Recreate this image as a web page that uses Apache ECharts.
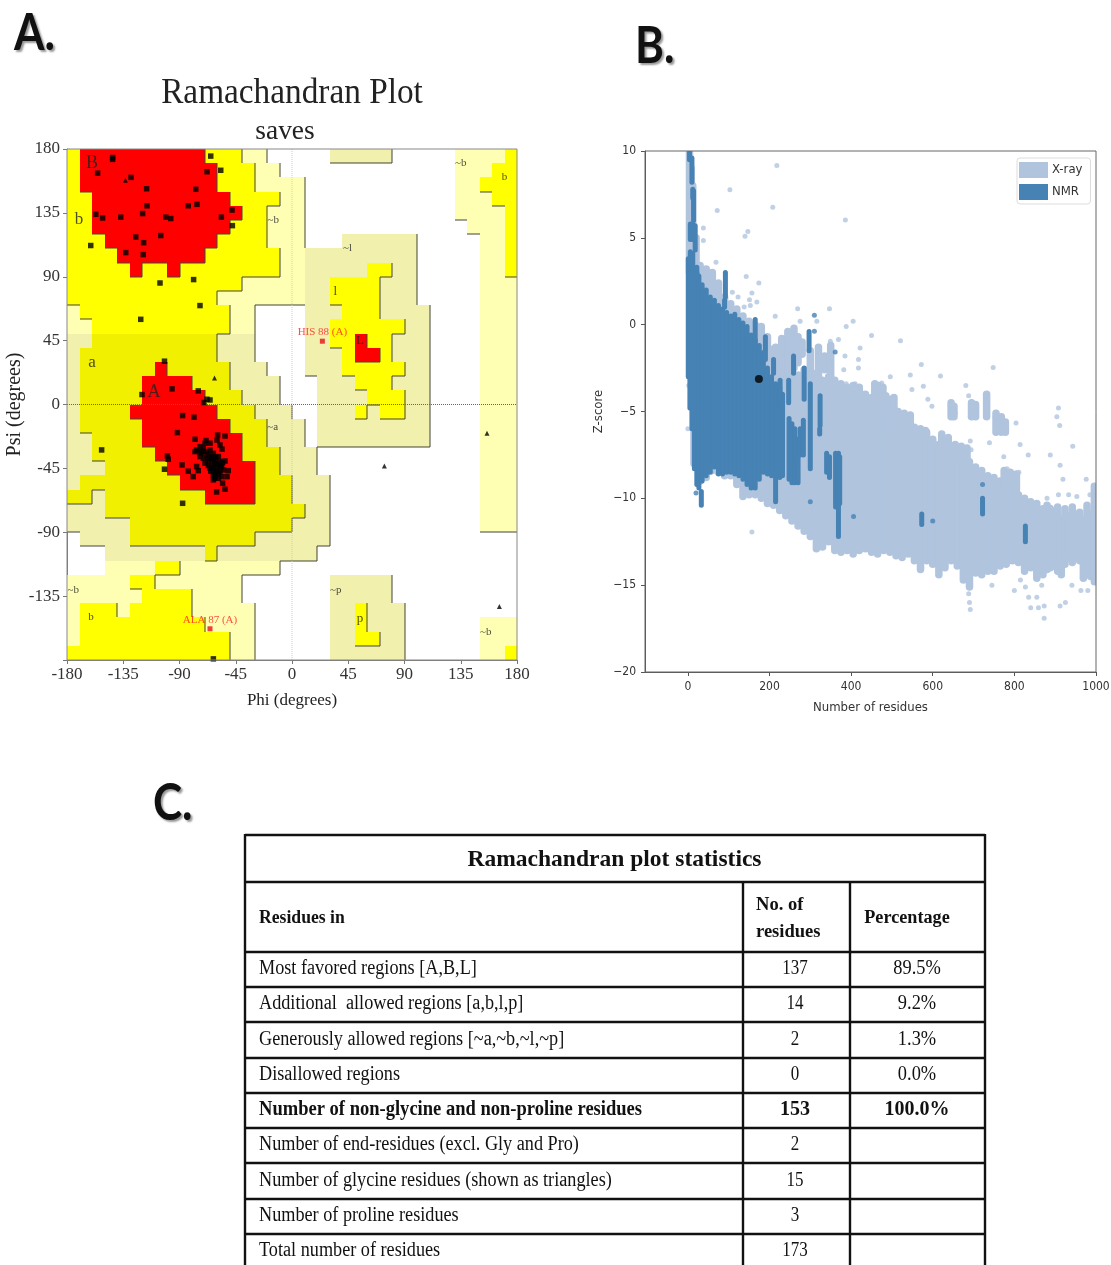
<!DOCTYPE html>
<html><head><meta charset="utf-8">
<style>html,body{margin:0;padding:0;background:#fff}#c{width:1111px;height:1265px;filter:blur(0.55px)}</style>
<script src="https://cdn.jsdelivr.net/npm/echarts@6/dist/echarts.min.js"></script>
</head><body><div id="c"></div>
<script>
// ---------- Panel A data: 10-degree Ramachandran cells, top row first (run-length: code+count)
const regionRows = [
'y1r10y3p2.5t5.5p4y1','y1r11y3p2.14p3y2','y1r11y3p4.12p2y3','y2r11y4p2.12p3y2',
'y2r12y2p3.12p4y1','y2r11y3p3.13p3y1','y3r9y4p3.3t6.5p2y1','y4r7y6p2t9.5p2y1',
'y5r1y2r1y8p2t5y2t2.5p2y1','y14p5t2y4t3.5p3','y12p7t2y4t3.5p3','p1y12p2.4t3y3t4.4p3',
'p2y11p2.4t2y6t2.4p3','t2o10t3.4t2y2r1y2t3.4p3','t1o11t3.4t3y1r2y1t3.4p3','t1o6r1o5t3.3t3y5t2.4p3',
't1o5r4o3t4.3t3y3t3.4p3','t1o5r5o3t3.3t4y3t2.4p3','t1o4r7o3t3.2t3y1t1y2t2.4p3','t1o5r7o3t3.1t9.4p3',
't2o4r8o2t3.1t9.4p3','t2o5r7o3t3.13p3','t3o5r7o2t3.13p3','t1o8r6o3t3.12p3',
'o2t1o8r4o3t3.12p3','t3o16t2.12p3','t5o13t3.12p3','.1t4o10t6.15',
'.3t8o1t8.16','.3p4y2p8.19','p5y2p7.7t5.10','p6y4p4.7t5.10',
'p1y3p1y5p5.6t2y1t3.9','p1y10p4.6t2y1t3.6p3','p1y12p2.6t2y2t2.6p3','y13p2.6t6.6p2y1'];
const regionFill = {p:'#FFFFB3',t:'#F1F0AC',y:'#FFFF00',o:'#F0F000',r:'#FF0000'};
const regionRank = {'.':0,p:1,t:1,y:2,o:2,r:3};
const residueSquares = [
[-143.5,174],[-143.5,172.7],[-155.5,163],[-128.8,160],[-116.3,152],[-65,175],[-68,164],[-57,165],[-77,151.6],[-76,141],
[-83,140],[-116,140],[-119.5,134.5],[-157,134],[-151.5,131.4],[-137,132],[-101,132],[-97,131],[-56.5,132],[-48,137],
[-47.7,126],[-105,119],[-125,118],[-118.7,114],[-133,107],[-119,105.6],[-161,112],[-105.6,85.6],[-78.7,88],[-73.6,69.7],
[-121,60],[-102,30.5],[-96,11],[-120,7],[-75,9.6],[-68,3.7],[-65.6,3.2],[-70.4,1.4],
[-87.5,-7.8],[-78.4,-9],[-91.7,-19.8],[-77.6,-24.5],[-53.6,-22.2],[-59.5,-21.5],[-60,-25],[-57.6,-28.5],[-56,-31.5],
[-68.8,-25.4],[-65.6,-27.3],[-152.3,-32],[-99.7,-36.2],[-99,-38.6],[-102,-45.6],[-88,-42.6],[-83,-47],[-79,-50.8],
[-76.3,-43.7],[-75,-46.6],[-87.5,-69.6],[-60.3,-61.6],[-55.5,-55.5],[-53.6,-59.7],[-52,-50.8],[-51,-46.6],[-53.6,-39.8],
[-76.3,-32],[-73.6,-29.7],[-70.9,-30.8],[-72.3,-34.4],[-69.6,-27.3],[-68.3,-33.2],[-73.6,-36.7],[-70.9,-37.9],[-65.6,-32],
[-64.3,-36.7],[-66.9,-40.2],[-62.9,-34.4],[-61.6,-39],[-64.3,-43.7],[-60.3,-41.4],[-57.6,-40.2],[-56.3,-43.7],[-62.9,-47.3],
[-60.3,-46.1],[-57.6,-47.3],[-61.6,-50.8],[-58.9,-52],[-62.9,-53.1],[-54.9,-46.1],[-65.6,-44.9],[-58.9,-36.7],[-69.6,-41.4],
[-66.9,-35.5],[-73.6,-33.2],[-77.6,-33.2],[-62.9,-49.6],[-56.3,-50.8],[-62,-42],[-63.5,-45],[-60,-44],[-66,-38],[-59,-49],
[-64,-40],[-61,-37],[-68,-37],[-62,-52],[-57,-44],[-65,-47],[-71,-33],[-58,-42],[-60,-48],[-63,-38],[-55.5,-41],[-67,-43],
[-62.9,-179.2]];
const glycineTriangles = [[-133.3,158],[-62,18.7],[156,-20.3],[73.9,-43.3],[165.9,-142.3]];
const outlierResidues = [{name:'HIS 88 (A)',value:[24.3,44.6]},{name:'ALA 87 (A)',value:[-65.6,-158]}];
const regionLabels = [
{name:'B',value:[-160,170],size:18},{name:'b',value:[-170.4,130],size:17},{name:'a',value:[-160,29.3],size:17},{name:'A',value:[-110.4,8.9],size:18},
{name:'~a',value:[-15.4,-15.6],size:11},{name:'~b',value:[-15,130],size:11},{name:'~l',value:[44.5,110],size:11},{name:'l',value:[34.6,79.5],size:13},
{name:'L',value:[54.4,45],size:13},{name:'~b',value:[135,170],size:11},{name:'b',value:[170,160],size:11},{name:'~b',value:[-175,-130.5],size:11},
{name:'b',value:[-160.8,-150],size:11},{name:'~p',value:[35,-130.5],size:11},{name:'p',value:[54.4,-151],size:13},{name:'~b',value:[155,-160],size:11}];

// ---------- Panel B data: [residues, lowest Z, highest Z] read column by column, plus isolated points
const xrayColumns = [
[4,3,9.9],[8,3,9],[12,3,8],[20,3,5],
[15,-8,3.5],[30,-9,3.4],[45,-8.8,3.2],[60,-8.4,3],[75,-8.5,2.4],[90,-8.7,1.6],[105,-8.7,1.2],[120,-9.2,0.9],[135,-9.9,0.5],[150,-9.8,0.2],
[165,-9.8,0],[180,-10,-0.1],[195,-10.3,-0.7],[210,-10.4,-1.4],[225,-10.7,-2],[240,-11,-2.4],[255,-11.3,-2.6],[270,-11.6,-2.9],[285,-11.9,-2.6],
[300,-12.2,-2.5],[315,-12.9,-2.8],[330,-12.8,-3.2],[345,-12.5,-3],[360,-13,-3.2],[375,-13.1,-3.4],[390,-13,-3.6],[405,-13.2,-3.5],[420,-13,-3.6],
[435,-12.9,-4],[450,-13.1,-4.2],[465,-13.2,-4.3],[480,-13,-4.6],[495,-13.1,-4.8],[510,-13.3,-5],[525,-13.4,-5.3],[540,-13.2,-5.5],[555,-13.6,-5.9],
[570,-14.1,-6.1],[585,-13.6,-6.2],[600,-13.8,-6.6],[615,-14.4,-6.9],[630,-14,-7.2],[645,-13.6,-7.4],[660,-13.9,-7.6],[675,-14.7,-7.7],[690,-15.1,-7.9],
[705,-14.3,-8.2],[720,-14.4,-8.4],[735,-14.2,-8.7],[750,-14.2,-8.8],[765,-13.9,-9],[780,-13.8,-9.1],[795,-13.6,-9.5],[810,-13.7,-9.8],[825,-14.2,-10],
[840,-14,-10.2],[855,-14.6,-10.3],[870,-14.4,-10.6],
[880,-14.1,-10.4],[888,-14,-10.6],[897,-13.9,-11],[906,-14.2,-10.5],[915,-14.4,-11.2],[924,-13.8,-10.6],[933,-13.4,-11],[942,-13.7,-10.5],[951,-13.2,-11.5],
[960,-13.6,-10.8],[969,-14.6,-11.2],[978,-14.4,-10.4],[987,-14.5,-10.9],[996,-14.8,-9.3],
[215,-3.2,-1.3],[230,-3,-0.8],[245,-2.8,-0.4],[260,-2.5,-0.2],[270,-2.2,-0.7],[280,-1.7,-1],[300,-2.5,-1.5],[320,-3,-1.3],[335,-2.6,-1.8],[350,-3,-1.2],
[458,-4.7,-3.4],[468,-4.7,-3.5],[478,-4.7,-3.6],[485,-5.3,-4.1],[497,-5.3,-4.3],[505,-5.5,-4.2],[515,-6.5,-5],[530,-6.5,-5.1],[545,-6.5,-5.2],
[570,-6.4,-6],[582,-6.4,-6.1],[645,-5.3,-4.5],[652,-5.3,-4.7],[695,-5.3,-4.5],[705,-5.3,-4.6],[732,-5.3,-4],[755,-6.2,-5.1],[768,-6.2,-5.3],[778,-6.2,-5.6],
[622,-7,-6.3],[638,-7.4,-6.5],[655,-7.6,-6.9],[670,-7.8,-7],[684,-8,-7.1],[775,-9.3,-8.4],[790,-9.3,-8.5],[805,-9.5,-8.6]];
const xrayPoints = [
[218,9.16],[103,7.77],[208,6.76],[72,6.58],[386,6.03],[38,5.57],[147,5.37],[140,5.09],[38,4.84],[69,3.6],[143,2.78],[174,2.4],[109,1.86],[157,1.82],
[123,1.6],[151,1.44],[169,1.3],[153,1.11],[138,1.02],[269,0.92],[347,0.92],[214,0.48],[275,0.19],[316,0.19],[388,-0.1],[349,-0.96],[369,-0.86],
[2,-3.5],[0,-6],[157,-11.94],[405,0.19],[450,-0.63],[521,-0.92],[572,-2.3],[748,-2.46],[619,-2.96],[496,-3],[545,-2.9],[681,-3.5],[577,-3.55],
[549,-3.74],[688,-4.1],[730,-4.1],[730,-4.7],[700,-4.7],[643,-4.7],[655,-5.1],[908,-4.8],[904,-5.3],[911,-5.8],[773,-5.76],[753,-5.3],[804,-5.66],
[692,-5.3],[588,-4.3],[598,-4.7],[475,-3.36],[455,-4.4],[422,-1.34],[385,-1.8],[418,-2],[382,-2.6],[418,-2.5],[388,-3.4],[410,-3.4],
[692,-6.7],[694,-7.2],[739,-6.8],[814,-6.9],[834,-7.5],[943,-7],[888,-7.5],[912,-8.1],[919,-8.9],[976,-8.9],[908,-9.8],[933,-9.8],[953,-9.9],[985,-9.8],
[774,-7.6],[782,-8.3],[811,-8.5],[880,-10],[888,-10.5],[896,-10.9],[692,-16.4],[688,-15.5],[690,-16],[745,-15],[800,-15.3],[815,-14.7],[827,-15.1],
[835,-15.7],[840,-16.3],[855,-15.7],[859,-16.3],[867,-15],[873,-16.2],[873,-16.9],[912,-16.2],[925,-16],[963,-15.3],[980,-15.3],[941,-15],[573,-14]];
const nmrColumns = [
[1,-3,3.8],[5,-4.8,3.6],[10,-6,3.5],[16,-8.3,3.2],[22,-9.2,3],[27,-9.4,2.8],[35,-9,2.3],[45,-8.7,2],[55,-8.5,1.6],[65,-8.2,1.4],[75,-8.6,1.1],[85,-8.6,0.9],
[95,-8.5,0.7],[105,-8.5,0.5],[115,-8.6,0.6],[125,-8.7,0.3],[135,-8.9,0.1],[145,-9.2,-0.1],[155,-9.4,-0.6],[165,-9.4,-0.9],[175,-8.9,-1.2],[185,-8.5,-1.6],
[195,-8.6,-2.5],[205,-8.7,-3],[215,-8.7,-3.4],[225,-8.8,-3.6],[232,-8.7,-4],
[215,-10.2,-8.7],[248,-8.9,-5.4],[255,-9.1,-5.7],[262,-9.1,-6],[270,-9.1,-6.6],[275,-7.5,-6],[283,-7.5,-5.5],[300,-8.3,-3.4],[285,-4.3,-2.5],[324,-5.8,-4.1],
[323,-6.3,-6],[340,-8.5,-7.4],[347,-8.8,-7.6],[362,-10.5,-7.4],[369,-12.2,-7.4],[372,-10.3,-7.6],[33,-10.4,-9.6],[92,1.6,3],[90,1,1.4],[297,-1.5,-0.4],
[259,-2.8,-1.8],[247,-4.5,-3.2],[226,-4.5,-3.2],[210,-2.8,-2],[190,-2,-0.7],[165,-1.2,0.3],
[4,9.5,9.9],[10,8.2,9.6],[12,7.3,7.8],[14,6,7.7],[6,4.9,5.8],[12,4.9,5.8],[18,4.3,5.7],[6,3,4.2],[12,3,4.1],[22,2.7,3.3],
[573,-11.5,-10.9],[722,-10.9,-10],[827,-12.5,-11.6]];
const nmrPoints = [[310,0.54],[310,-0.38],[361,-1.57],[300,-10.2],[406,-11.04],[600,-11.3],[722,-9.2],[20,-9.7]];
const queryProtein = [[174,-3.13]];
const residueTicks = [0,200,400,600,800,1000];

// ---------- Panel C data
const tableTitle = 'Ramachandran plot statistics';
const tableHeader = ['Residues in','No. of','residues','Percentage'];
const rowLabels = ['Most favored regions [A,B,L]','Additional  allowed regions [a,b,l,p]','Generously allowed regions [~a,~b,~l,~p]','Disallowed regions',
'Number of non-glycine and non-proline residues','Number of end-residues (excl. Gly and Pro)','Number of glycine residues (shown as triangles)','Number of proline residues','Total number of residues'];
const rowCounts = ['137','14','2','0','153','2','15','3','173'];
const rowPercents = ['89.5%','9.2%','1.3%','0.0%','100.0%','','','',''];
const boldRow = 4;

// ---------- build
const cellGrid = regionRows.map(s=>{let o='';s.replace(/([.ptyor])(\d+)/g,(m,c,n)=>{o+=c.repeat(+n);return m;});return o;});
const cells=[],edges=[];
cellGrid.forEach((row,r)=>{[...row].forEach((c,k)=>{
  const phi=-180+k*10,psi=180-r*10;
  if(c!=='.')cells.push([phi,psi,c]);
  const rk=regionRank[c];
  if(k<35&&regionRank[row[k+1]]<rk)edges.push([phi+10,psi,phi+10,psi-10]);
  if(r<35&&regionRank[cellGrid[r+1][k]]<rk)edges.push([phi,psi-10,phi+10,psi-10]);
});});
const serif='"Liberation Serif"',sans='"DejaVu Sans Condensed","DejaVu Sans"';
function seg(color,width){return function(p,api){
  const a=api.coord([api.value(0),api.value(1)]),b=api.coord([api.value(0),api.value(2)]);
  return{type:'line',shape:{x1:a[0],y1:a[1],x2:b[0],y2:b[1]},style:{stroke:color,lineWidth:width,lineCap:'round'}};};}
const gfx=[];
function T(x,y,text,font,o){o=o||{};gfx.push({type:'text',x:x,y:y,scaleX:o.sx||1,scaleY:o.sy||1,z:30,style:{text:text,x:0,y:0,font:font,fill:o.fill||'#111',textAlign:o.align||'left',textVerticalAlign:'middle',textShadowColor:o.shadow,textShadowBlur:o.shadow?2:0,textShadowOffsetX:o.shadow?2:0,textShadowOffsetY:o.shadow?2:0}});}
function L(x1,y1,x2,y2,w){gfx.push({type:'line',z:30,shape:{x1,y1,x2,y2},style:{stroke:'#111',lineWidth:w||2.4}});}
T(14,33,'A.','bold 50px Lato',{sx:.88,sy:1.05,shadow:'#999'});
T(635,46,'B.','bold 50px Lato',{sx:.88,sy:1.05,shadow:'#999'});
T(153,803,'C.','bold 50px Lato',{sx:.88,sy:1.05,shadow:'#999'});
T(292,94,'Ramachandran Plot','36px '+serif,{align:'center',sx:.925,fill:'#222'});
T(285,132,'saves','28px '+serif,{align:'center',sx:.98,fill:'#222'});
// table
const rowY=[952,987,1022,1058,1093,1128,1163,1199,1234,1269];
[835,882].concat(rowY.slice(0,9)).forEach(y=>L(245,y,985,y));
L(245,834,245,1265);L(985,834,985,1265);L(743,882,743,1265);L(850,882,850,1265);
T(614.5,860,tableTitle,'bold 24px '+serif,{align:'center',sx:.98});
T(259,918,tableHeader[0],'bold 18px '+serif,{sx:.98});
T(756,905,tableHeader[1],'bold 18px '+serif,{sx:1.03});T(756,932,tableHeader[2],'bold 18px '+serif,{sx:1.03});
T(907,918,tableHeader[3],'bold 18px '+serif,{align:'center',sx:1.01});
rowLabels.forEach((t,i)=>{const y=(rowY[i]+rowY[i+1])/2-.5,b=i===boldRow,f=(b?'bold ':'')+'20px '+serif;
  T(259,y,t,f,{sx:b?.927:.91});T(795,y,rowCounts[i],f,{align:'center',sx:b?1:.85});if(rowPercents[i])T(917,y,rowPercents[i],f,{align:'center',sx:b?1:.92});});

const axisA=(nm,gap,size)=>({name:nm,nameLocation:'middle',nameGap:gap,nameTextStyle:{fontFamily:serif,fontSize:size,color:'#222'},min:-180,max:180,interval:45,splitLine:{show:false},
  axisLine:{onZero:false,lineStyle:{color:'#777'}},axisTick:{lineStyle:{color:'#777'},length:4},axisLabel:{fontFamily:serif,fontSize:17,color:'#333',margin:6}});
const axBCommon={nameLocation:'middle',nameTextStyle:{fontFamily:sans,fontSize:13,color:'#333'},splitLine:{show:false},axisLine:{onZero:false,lineStyle:{color:'#555'}},axisTick:{lineStyle:{color:'#555'},length:4},axisLabel:{fontFamily:sans,fontSize:12,color:'#333',margin:9}};
const option={animation:false,backgroundColor:'#fff',
 grid:[{left:67,top:149,width:450,height:511,show:true,borderColor:'#888',borderWidth:1,backgroundColor:'transparent',z:20,outerBoundsMode:'none'},
       {left:645,top:151,width:451,height:521,show:true,borderColor:'#666',borderWidth:1,backgroundColor:'transparent',z:20,outerBoundsMode:'none'}],
 xAxis:[Object.assign({type:'value',gridIndex:0,position:'bottom'},axisA('Phi (degrees)',32,17)),
   Object.assign({},axBCommon,{type:'value',gridIndex:1,name:'Number of residues',nameGap:29,min:-105,max:1000,axisTick:Object.assign({},axBCommon.axisTick,{customValues:residueTicks}),axisLabel:Object.assign({},axBCommon.axisLabel,{customValues:residueTicks,formatter:v=>String(v)})})],
 yAxis:[Object.assign({type:'value',gridIndex:0},axisA('Psi (degrees)',42,20),{axisLabel:{fontFamily:serif,fontSize:17,color:'#333',margin:7,formatter:v=>v===-180?'':v}}),
   Object.assign({},axBCommon,{type:'value',gridIndex:1,name:'Z-score',nameGap:40,min:-20,max:10,interval:5,axisLabel:Object.assign({},axBCommon.axisLabel,{formatter:v=>String(v).replace('-','\u2212')})})],
 legend:{data:['X-ray','NMR'],orient:'vertical',left:1017,top:158,itemWidth:29,itemHeight:16,itemGap:6,icon:'rect',padding:[4,8,4,2],borderColor:'#ddd',borderWidth:1,borderRadius:3,backgroundColor:'#fff',textStyle:{fontFamily:sans,fontSize:13,color:'#333',padding:[0,0,0,-1]},selectedMode:false,z:25},
 graphic:gfx,
 series:[
  {type:'custom',xAxisIndex:0,yAxisIndex:0,z:1,silent:true,clip:true,data:cells,renderItem(p,api){
    const a=api.coord([api.value(0),api.value(1)]),b=api.coord([api.value(0)+10,api.value(1)-10]);
    const x0=Math.round(a[0]),y0=Math.round(a[1]),x1=Math.round(b[0]),y1=Math.round(b[1]);
    return{type:'rect',shape:{x:x0,y:y0,width:x1-x0,height:y1-y0},style:{fill:regionFill[cells[p.dataIndex][2]]}};}},
  {type:'custom',xAxisIndex:0,yAxisIndex:0,z:2,silent:true,data:edges,renderItem(p,api){
    const a=api.coord([api.value(0),api.value(1)]),b=api.coord([api.value(2),api.value(3)]);
    return{type:'line',shape:{x1:Math.round(a[0]),y1:Math.round(a[1]),x2:Math.round(b[0]),y2:Math.round(b[1])},style:{stroke:'rgba(70,70,60,.85)',lineWidth:1.2}};}},
  {type:'line',xAxisIndex:0,yAxisIndex:0,z:3,silent:true,symbol:'none',data:[[-180,0],[180,0]],lineStyle:{color:'#666',width:1,type:'dotted'}},
  {type:'line',xAxisIndex:0,yAxisIndex:0,z:3,silent:true,symbol:'none',data:[[0,-180],[0,180]],lineStyle:{color:'#ccc',width:1,type:'dotted'}},
  {type:'scatter',xAxisIndex:0,yAxisIndex:0,z:5,silent:true,symbol:'rect',symbolSize:5.5,itemStyle:{color:'#000'},data:residueSquares,clip:false},
  {type:'scatter',xAxisIndex:0,yAxisIndex:0,z:5,silent:true,symbol:'triangle',symbolSize:5,itemStyle:{color:'#000'},data:glycineTriangles},
  {type:'scatter',xAxisIndex:0,yAxisIndex:0,z:6,silent:true,symbol:'rect',symbolSize:5,itemStyle:{color:'#E8101A'},data:outlierResidues,
    label:{show:true,position:'top',distance:1,formatter:'{b}',fontFamily:serif,fontSize:11,color:'#F22'}},
  {type:'scatter',xAxisIndex:0,yAxisIndex:0,z:6,silent:true,symbolSize:0,data:regionLabels.map(d=>({name:d.name,value:d.value,label:{fontSize:d.size}})),
    label:{show:true,position:'inside',formatter:'{b}',fontFamily:serif,color:'#222'}},
  {type:'custom',name:'X-ray',xAxisIndex:1,yAxisIndex:1,z:1,silent:true,clip:true,itemStyle:{color:'#B0C4DE'},data:xrayColumns,renderItem:seg('#B0C4DE',7.5)},
  {type:'scatter',name:'X-ray',xAxisIndex:1,yAxisIndex:1,z:2,silent:true,symbolSize:5,itemStyle:{color:'#B0C4DE'},data:xrayPoints},
  {type:'custom',name:'NMR',xAxisIndex:1,yAxisIndex:1,z:3,silent:true,clip:true,itemStyle:{color:'#4682B4'},data:nmrColumns,renderItem:seg('#4682B4',5)},
  {type:'scatter',name:'NMR',xAxisIndex:1,yAxisIndex:1,z:4,silent:true,symbolSize:5,itemStyle:{color:'#4682B4'},data:nmrPoints},
  {type:'scatter',xAxisIndex:1,yAxisIndex:1,z:6,silent:true,symbolSize:8,itemStyle:{color:'#000'},data:queryProtein}
 ]};
echarts.init(document.getElementById('c'),null,{width:1111,height:1265}).setOption(option);
</script></body></html>
